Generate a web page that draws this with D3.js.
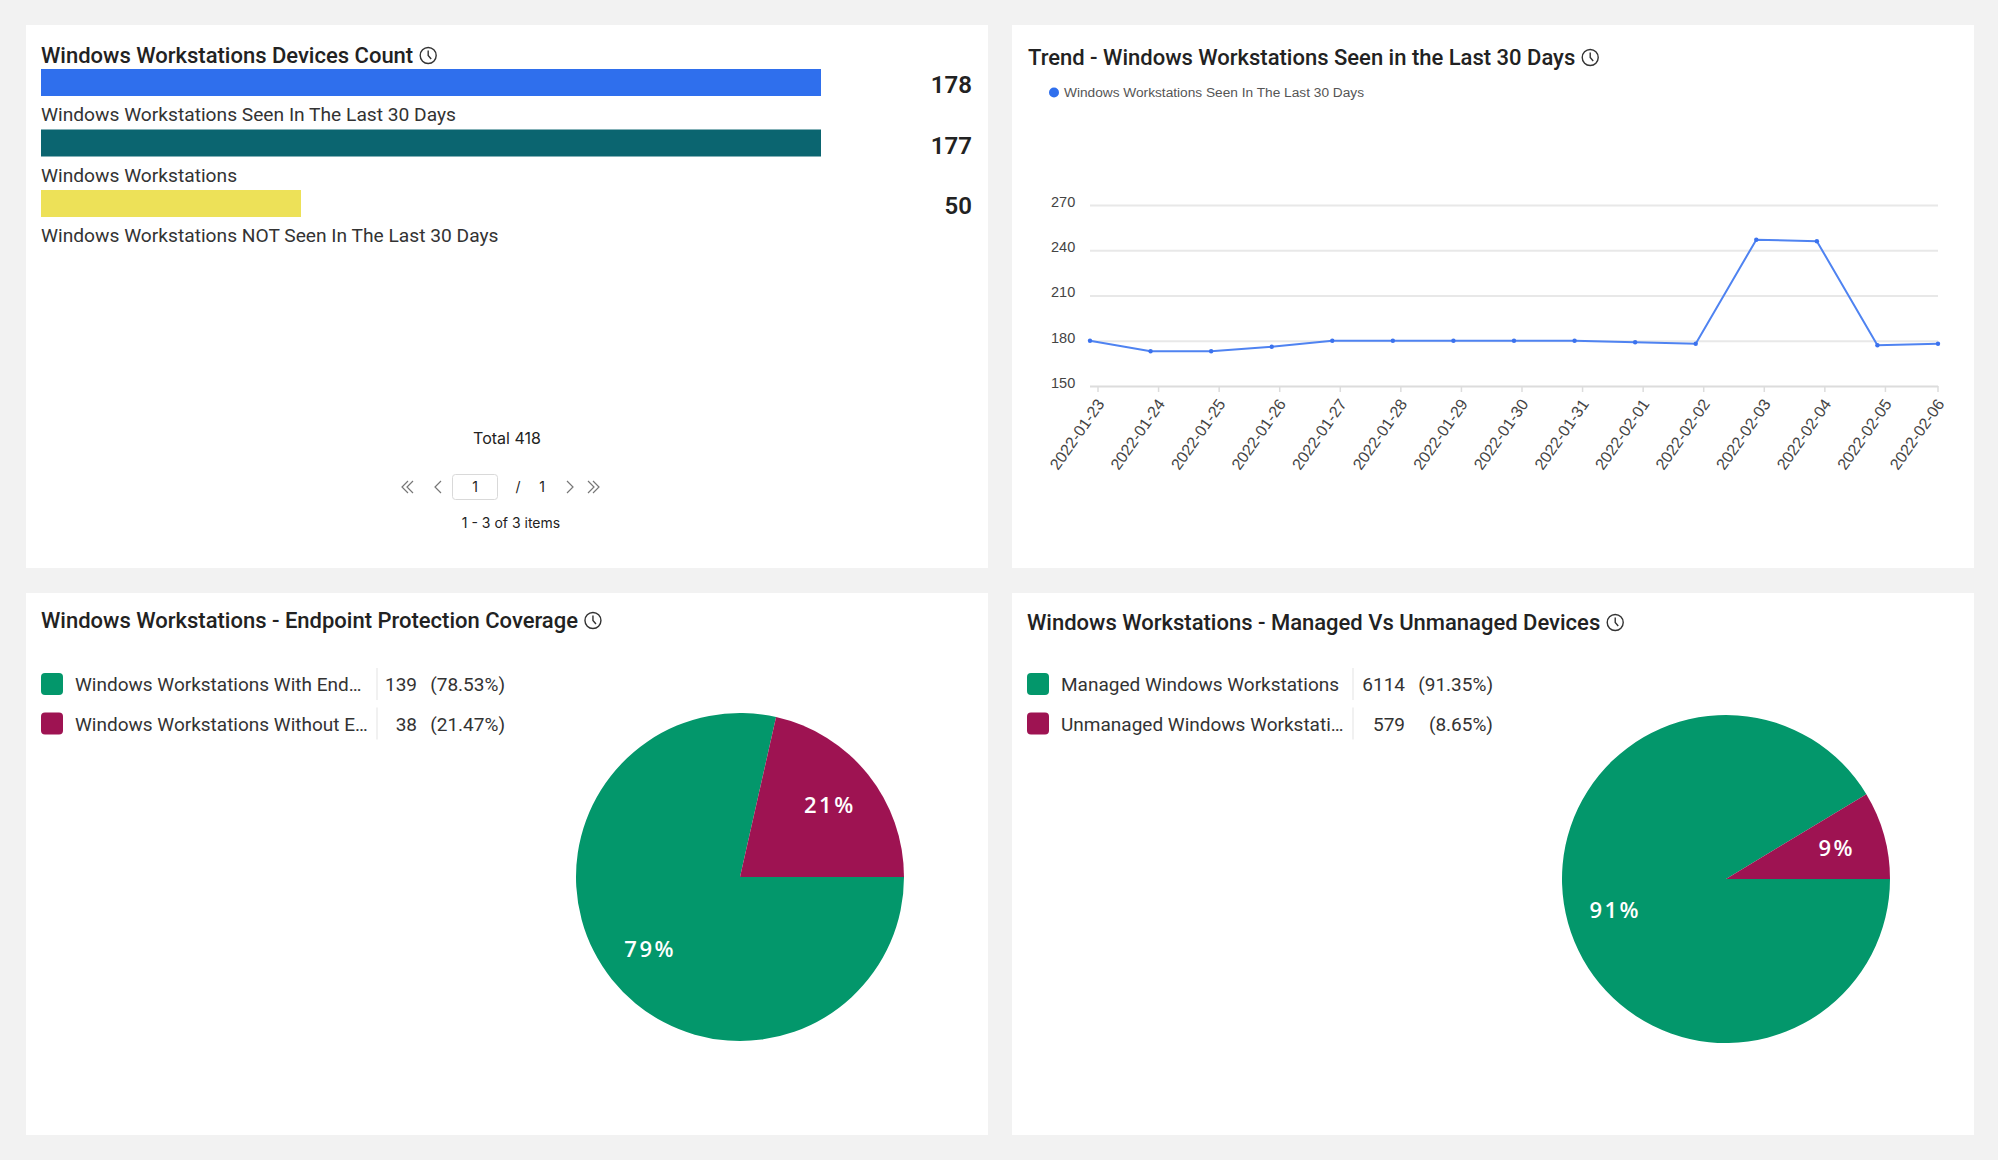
<!DOCTYPE html>
<html>
<head>
<meta charset="utf-8">
<script src="https://cdn.jsdelivr.net/npm/d3@7"></script>
<style>
  body { margin: 0; background: #f2f2f2; }
</style>
</head>
<body>
<div id="dashboard"></div>
<script>
// ---- data ----
var barLabels = [
  "Windows Workstations Seen In The Last 30 Days",
  "Windows Workstations",
  "Windows Workstations NOT Seen In The Last 30 Days"
];
var barValues = [178, 177, 50];
var barColors = ["#2f6fed", "#0b6570", "#ede158"];
var barTotal = 418;

var trendDates = [
  "2022-01-23", "2022-01-24", "2022-01-25", "2022-01-26", "2022-01-27",
  "2022-01-28", "2022-01-29", "2022-01-30", "2022-01-31", "2022-02-01",
  "2022-02-02", "2022-02-03", "2022-02-04", "2022-02-05", "2022-02-06"
];
var trendValues = [180, 173, 173, 176, 180, 180, 180, 180, 180, 179, 178, 247, 246, 177, 178];
var trendTicks = [150, 180, 210, 240, 270];
var trendSeries = "Windows Workstations Seen In The Last 30 Days";

var epLabels = ["Windows Workstations With End\u2026", "Windows Workstations Without E\u2026"];
var epValues = [139, 38];

var mgLabels = ["Managed Windows Workstations", "Unmanaged Windows Workstati\u2026"];
var mgValues = [6114, 579];

var pieColors = ["#03976b", "#9e1352"];

// ---- canvas ----
var svgWidth = 1998;
var svgHeight = 1160;

var svg = d3.select("#dashboard")
  .append("svg")
  .attr("width", svgWidth)
  .attr("height", svgHeight)
  .style("display", "block");

svg.append("rect")
  .attr("width", svgWidth)
  .attr("height", svgHeight)
  .attr("fill", "#f2f2f2");

var titleFont = "Roboto, 'Liberation Sans', sans-serif";
var chartFont = "'Liberation Sans', Arial, sans-serif";

// white panel + title with the little clock icon
function addCard(x, y, w, h, title, tx, ty) {
  var g = svg.append("g");
  g.append("rect")
    .attr("x", x).attr("y", y)
    .attr("width", w).attr("height", h)
    .attr("fill", "#ffffff");

  var t = g.append("text")
    .attr("x", tx).attr("y", ty)
    .attr("font-family", titleFont)
    .attr("font-size", "22px")
    .attr("font-weight", 500)
    .attr("fill", "#222")
    .text(title);

  var cx = tx + t.node().getComputedTextLength() + 15;
  var cy = ty - 7.5;
  g.append("circle")
    .attr("cx", cx).attr("cy", cy).attr("r", 8)
    .attr("fill", "none")
    .attr("stroke", "#333")
    .attr("stroke-width", 1.4);
  g.append("path")
    .attr("d", `M${cx},${cy - 5}V${cy}L${cx + 3},${cy + 3.5}`)
    .attr("fill", "none")
    .attr("stroke", "#333")
    .attr("stroke-width", 1.4);
  return g;
}

// ---- card 1 : device counts ----
var card1 = addCard(26, 25, 962, 543, "Windows Workstations Devices Count", 41, 63);

var barX = d3.scaleLinear()
  .domain([0, 150])
  .range([0, 780])
  .clamp(true);

var barY = d3.scalePoint()
  .domain(barLabels)
  .range([69, 190]);

var barRows = card1.append("g")
  .selectAll("g")
  .data(barLabels)
  .enter()
  .append("g")
  .attr("transform", d => `translate(0, ${barY(d)})`);

barRows.append("rect")
  .attr("x", 41)
  .attr("y", 0)
  .attr("width", (d, i) => barX(barValues[i]))
  .attr("height", 27)
  .attr("fill", (d, i) => barColors[i]);

barRows.append("text")
  .attr("x", 972)
  .attr("y", 24)
  .attr("text-anchor", "end")
  .attr("font-family", titleFont)
  .attr("font-size", "24px")
  .attr("font-weight", 600)
  .attr("fill", "#222")
  .text((d, i) => barValues[i]);

barRows.append("text")
  .attr("x", 41)
  .attr("y", 52)
  .attr("font-family", titleFont)
  .attr("font-size", "19.2px")
  .attr("fill", "#333")
  .text(d => d);

card1.append("text")
  .attr("x", 507)
  .attr("y", 444)
  .attr("text-anchor", "middle")
  .attr("font-family", "Inter, 'Liberation Sans', sans-serif")
  .attr("font-size", "16px")
  .attr("fill", "#222")
  .text("Total " + barTotal);

// pager
var pager = card1.append("g").attr("transform", "translate(0, 487)");

function chevron(x, dir, dbl) {
  var p = "";
  var offs = dbl ? [0, 5] : [0];
  offs.forEach(function(o) {
    var xx = x + o * dir;
    p += `M${xx + 3 * dir},-6L${xx - 3 * dir},0L${xx + 3 * dir},6`;
  });
  pager.append("path")
    .attr("d", p)
    .attr("fill", "none")
    .attr("stroke", "#777")
    .attr("stroke-width", 1.2);
}
chevron(405, 1, true);
chevron(438, 1, false);
chevron(570, -1, false);
chevron(596, -1, true);

pager.append("rect")
  .attr("x", 452.5).attr("y", -12.5)
  .attr("width", 45).attr("height", 25)
  .attr("rx", 3)
  .attr("fill", "#fff")
  .attr("stroke", "#d9d9d9");

pager.selectAll("text.pg")
  .data([[475, "1"], [518, "/"], [542, "1"]])
  .enter()
  .append("text")
  .attr("class", "pg")
  .attr("x", d => d[0])
  .attr("y", 5)
  .attr("text-anchor", "middle")
  .attr("font-family", "Inter, 'Liberation Sans', sans-serif")
  .attr("font-size", "14px")
  .attr("fill", "#222")
  .text(d => d[1]);

card1.append("text")
  .attr("x", 511)
  .attr("y", 528)
  .attr("text-anchor", "middle")
  .attr("font-family", "Inter, 'Liberation Sans', sans-serif")
  .attr("font-size", "14px")
  .attr("fill", "#222")
  .text(`1 - ${barLabels.length} of ${barLabels.length} items`);

// ---- card 2 : trend line ----
var card2 = addCard(1012, 25, 962, 543, "Trend - Windows Workstations Seen in the Last 30 Days", 1028, 65);

card2.append("circle")
  .attr("cx", 1054).attr("cy", 92.5).attr("r", 5)
  .attr("fill", "#2f6fed");
card2.append("text")
  .attr("x", 1064).attr("y", 97)
  .attr("font-family", chartFont)
  .attr("font-size", "13.7px")
  .attr("fill", "#555")
  .text(trendSeries);

var lineX = d3.scalePoint()
  .domain(trendDates)
  .range([1090, 1938]);

var lineY = d3.scaleLinear()
  .domain([150, 270])
  .range([386, 205]);

// grid + y labels
var yAxis = d3.axisLeft(lineY)
  .tickValues(trendTicks)
  .tickSize(-(1938 - 1090))
  .tickPadding(0);

var yAxisG = card2.append("g")
  .attr("transform", "translate(1090, 0)")
  .call(yAxis);
yAxisG.select(".domain").remove();
yAxisG.selectAll(".tick line")
  .attr("stroke", d => d === 150 ? "#dcdcdc" : "#e8e8e8")
  .attr("stroke-width", 2);
yAxisG.selectAll(".tick text")
  .attr("x", 1051 - 1090)
  .attr("dy", "0.1em")
  .attr("text-anchor", "start")
  .attr("font-family", chartFont)
  .attr("font-size", "14.5px")
  .attr("fill", "#444");

// x axis ticks sit a bit right of the points, like the source chart
var xTickPos = d => Math.min(lineX(d) + 8, 1938);
var xAxisG = card2.append("g");
xAxisG.selectAll("line")
  .data(trendDates)
  .enter()
  .append("line")
  .attr("x1", xTickPos).attr("x2", xTickPos)
  .attr("y1", 386).attr("y2", 392)
  .attr("stroke", "#dcdcdc")
  .attr("stroke-width", 1.5);
xAxisG.selectAll("text")
  .data(trendDates)
  .enter()
  .append("text")
  .attr("transform", d => `translate(${xTickPos(d) + 7}, 404) rotate(-55)`)
  .attr("text-anchor", "end")
  .attr("font-family", chartFont)
  .attr("font-size", "16px")
  .attr("fill", "#444")
  .text(d => d);

var line = d3.line()
  .x((d, i) => lineX(trendDates[i]))
  .y(d => lineY(d));

card2.append("path")
  .datum(trendValues)
  .attr("d", line)
  .attr("fill", "none")
  .attr("stroke", "#4f83f1")
  .attr("stroke-width", 2);

card2.append("g")
  .selectAll("circle")
  .data(trendValues)
  .enter()
  .append("circle")
  .attr("cx", (d, i) => lineX(trendDates[i]))
  .attr("cy", d => lineY(d))
  .attr("r", 2.2)
  .attr("fill", "#3b72ee");

// ---- pie cards ----
function pieCard(card, labels, values, cols, cx, cy) {
  var total = d3.sum(values);
  var pctFmt = d3.format(".2%");

  // legend table
  var rows = card.append("g")
    .selectAll("g")
    .data(labels)
    .enter()
    .append("g")
    .attr("transform", (d, i) => `translate(0, ${673 + i * 39.5})`);

  rows.append("rect")
    .attr("x", cols.swatch).attr("y", 0)
    .attr("width", 22).attr("height", 22)
    .attr("rx", 4)
    .attr("fill", (d, i) => pieColors[i]);

  rows.append("text")
    .attr("x", cols.swatch + 34).attr("y", 18)
    .attr("font-family", titleFont)
    .attr("font-size", "19px")
    .attr("fill", "#333")
    .text(d => d);

  rows.append("line")
    .attr("x1", cols.divider).attr("x2", cols.divider)
    .attr("y1", -5).attr("y2", 27)
    .attr("stroke", "#e3e3e3");

  rows.append("text")
    .attr("x", cols.value).attr("y", 18)
    .attr("text-anchor", "end")
    .attr("font-family", titleFont)
    .attr("font-size", "19px")
    .attr("fill", "#333")
    .text((d, i) => values[i]);

  rows.append("text")
    .attr("x", cols.pct).attr("y", 18)
    .attr("text-anchor", "end")
    .attr("font-family", titleFont)
    .attr("font-size", "19px")
    .attr("fill", "#333")
    .text((d, i) => "(" + pctFmt(values[i] / total) + ")");

  // pie
  var pie = d3.pie()
    .sort(null)
    .startAngle(Math.PI / 2)
    .endAngle(Math.PI / 2 + 2 * Math.PI);

  var arc = d3.arc().innerRadius(0).outerRadius(164);
  var labelArc = d3.arc().innerRadius(115).outerRadius(115);

  var pg = card.append("g").attr("transform", `translate(${cx}, ${cy})`);
  var slices = pg.selectAll("g")
    .data(pie(values))
    .enter()
    .append("g");

  slices.append("path")
    .attr("d", arc)
    .attr("fill", (d, i) => pieColors[i]);

  slices.append("text")
    .attr("transform", d => `translate(${labelArc.centroid(d)})`)
    .attr("text-anchor", "middle")
    .attr("dy", "0.35em")
    .attr("font-family", "'Open Sans', sans-serif")
    .attr("font-size", "22px")
    .attr("font-weight", 600)
    .attr("letter-spacing", "2.5px")
    .attr("fill", "#fff")
    .text(d => Math.round(d.value / total * 100) + "%");
}

var card3 = addCard(26, 593, 962, 542, "Windows Workstations - Endpoint Protection Coverage", 41, 628);
pieCard(card3, epLabels, epValues, { swatch: 41, divider: 377, value: 417, pct: 505 }, 740, 877);

var card4 = addCard(1012, 593, 962, 542, "Windows Workstations - Managed Vs Unmanaged Devices", 1027, 630);
pieCard(card4, mgLabels, mgValues, { swatch: 1027, divider: 1353, value: 1405, pct: 1493 }, 1726, 879);
</script>
</body>
</html>
